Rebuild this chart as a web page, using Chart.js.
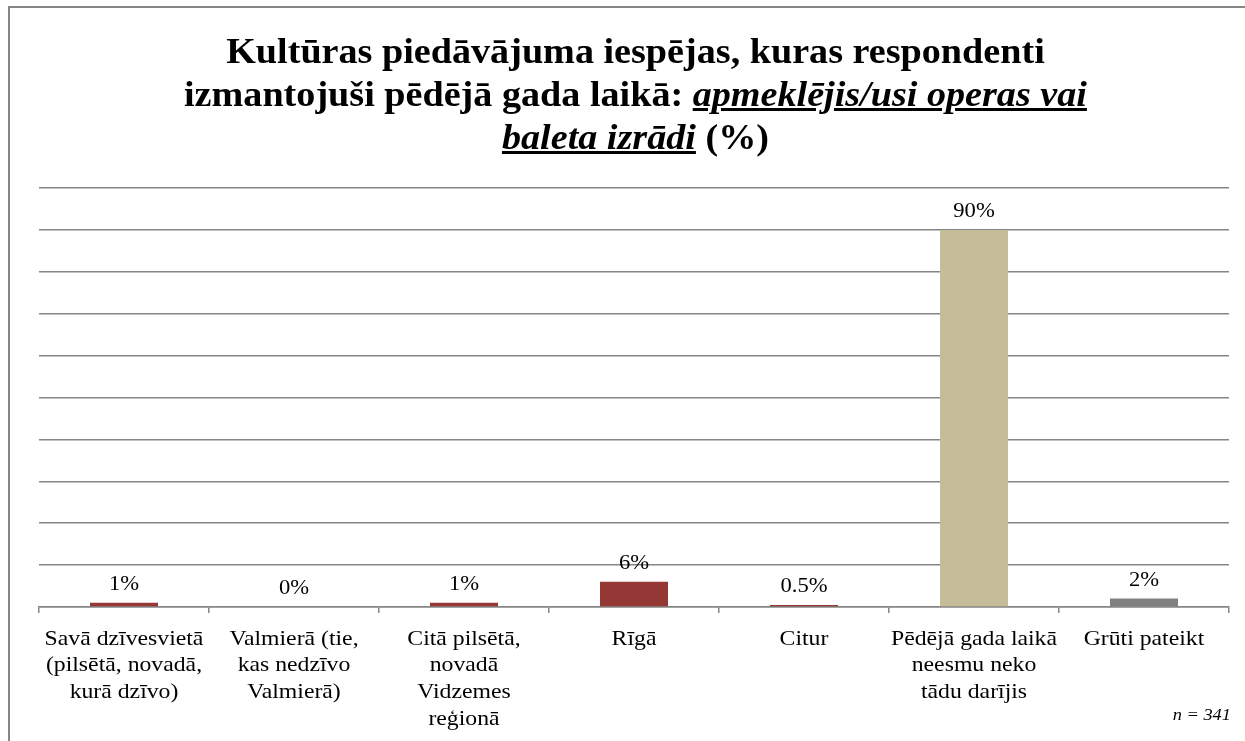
<!DOCTYPE html>
<html lang="lv">
<head>
<meta charset="utf-8">
<title>Kultūras piedāvājuma iespējas</title>
<script src="https://cdn.jsdelivr.net/npm/chart.js@4.4.0/dist/chart.umd.min.js"></script>
<style>
    html, body { margin: 0; padding: 0; background: #ffffff; }
    #wrap { position: relative; width: 1245px; height: 741px; overflow: hidden; }
    #frame {
        position: absolute; left: 8px; top: 6px; width: 1300px; height: 800px;
        border-left: 2px solid #868686; border-top: 2px solid #868686;
    }
    #chartTitle {
        position: absolute; left: 20px; top: 30px; width: 1235px;
        text-align: center; font-family: 'Liberation Serif', 'Times New Roman', serif;
        font-weight: bold; font-size: 35px; line-height: 43px; color: #000;
        transform: scaleX(1.09); transform-origin: 640px 0;
    }
    #chartTitle u { font-style: italic; }
    #nNote {
        position: absolute; right: 14px; top: 705px;
        font-family: 'Liberation Serif', 'Times New Roman', serif;
        font-style: italic; font-size: 17px; color: #000;
        transform: scaleX(1.08); transform-origin: right top;
    }
    canvas { position: absolute; left: 0; top: 0; }
</style>
</head>
<body>
<div id="wrap">
    <div id="frame"></div>
    <canvas id="operaChart" width="1245" height="741"></canvas>
    <div id="chartTitle">Kultūras piedāvājuma iespējas, kuras respondenti<br>izmantojuši pēdējā gada laikā: <u>apmeklējis/usi operas vai</u><br><u>baleta izrādi</u> (%)</div>
    <div id="nNote">n = 341</div>
</div>
<script>
    // ── Data ──────────────────────────────────────────────────────────────
    const categories = [
        ['Savā dzīvesvietā', '(pilsētā, novadā,', 'kurā dzīvo)'],
        ['Valmierā (tie,', 'kas nedzīvo', 'Valmierā)'],
        ['Citā pilsētā,', 'novadā', 'Vidzemes', 'reģionā'],
        ['Rīgā'],
        ['Citur'],
        ['Pēdējā gada laikā', 'neesmu neko', 'tādu darījis'],
        ['Grūti pateikt']
    ];
    const values = [1, 0, 1, 6, 0.5, 90, 2];
    const barColors = ['#953735', '#953735', '#953735', '#953735', '#953735', '#C4BD97', '#808080'];

    const SERIF = "'Liberation Serif', 'Times New Roman', serif";
    const GRID = '#868686';
    const STRETCH = 1.13;   // source picture is a bit wider than tall

    function stretchedText(ctx, text, x, y) {
        ctx.save();
        ctx.translate(x, y);
        ctx.scale(STRETCH, 1);
        ctx.fillText(text, 0, 0);
        ctx.restore();
    }

    // value labels above bars + category labels under the axis
    const textLayer = {
        id: 'textLayer',
        afterDraw(chart) {
            const ctx = chart.ctx;
            const meta = chart.getDatasetMeta(0);
            const xScale = chart.scales.x;
            ctx.save();
            ctx.font = '20px ' + SERIF;
            ctx.fillStyle = '#000';
            ctx.textAlign = 'center';
            ctx.textBaseline = 'bottom';
            meta.data.forEach((bar, i) => {
                stretchedText(ctx, values[i] + '%', bar.x, bar.y - 8);
            });

            ctx.font = '21px ' + SERIF;
            ctx.textBaseline = 'middle';
            categories.forEach((lines, i) => {
                const x = xScale.getPixelForValue(i);
                lines.forEach((line, j) => {
                    stretchedText(ctx, line, x, xScale.top + 32 + j * 26.7);
                });
            });
            ctx.restore();
        }
    };

    new Chart(document.getElementById('operaChart'), {
        type: 'bar',
        data: {
            labels: categories,
            datasets: [{
                data: values,
                backgroundColor: barColors,
                borderWidth: 0,
                barPercentage: 0.4,
                categoryPercentage: 1
            }]
        },
        options: {
            responsive: false,
            animation: false,
            layout: { padding: { top: 188, left: 39, right: 16, bottom: 0 } },
            plugins: {
                legend: { display: false },
                tooltip: { enabled: false },
                title: { display: false }
            },
            scales: {
                x: {
                    offset: true,
                    grid: {
                        display: true,
                        drawOnChartArea: false,
                        drawTicks: true,
                        tickLength: 6,
                        color: GRID,
                        lineWidth: 1.5,
                        offset: true
                    },
                    border: { display: true, color: GRID, width: 1.5 },
                    ticks: { display: false, autoSkip: false },
                    afterFit: scale => { scale.height = 134; }
                },
                y: {
                    min: 0,
                    max: 100,
                    grid: { color: GRID, lineWidth: 1.5, drawTicks: false },
                    border: { display: false },
                    ticks: { display: false, stepSize: 10 },
                    afterFit: scale => { scale.width = 0; }
                }
            }
        },
        plugins: [textLayer]
    });
</script>
</body>
</html>
